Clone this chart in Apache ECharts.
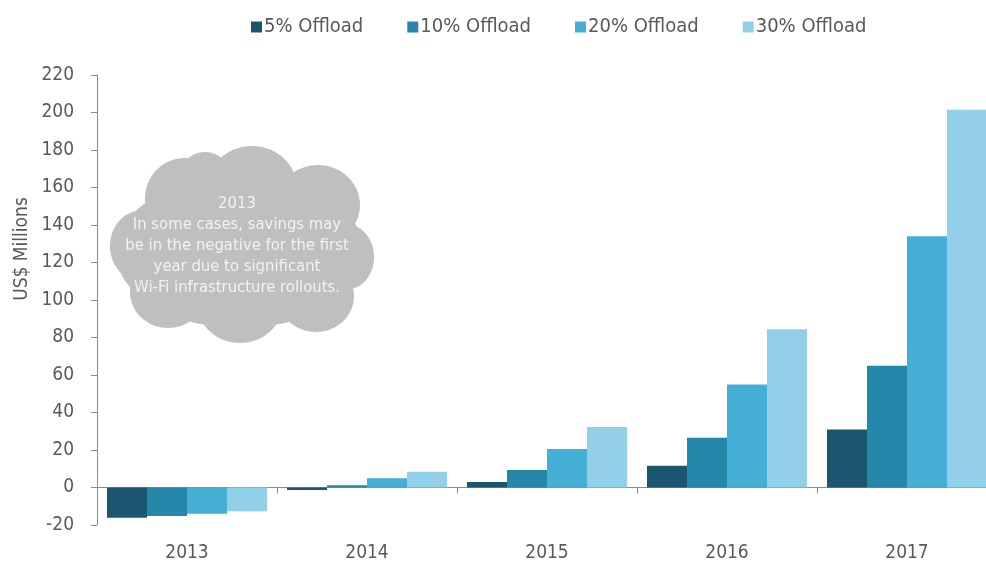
<!DOCTYPE html>
<html><head><meta charset="utf-8">
<script src="https://cdn.jsdelivr.net/npm/echarts@6/dist/echarts.min.js"></script>
<style>html,body{margin:0;padding:0;background:#fff;overflow:hidden}#c{width:997px;height:564px}</style>
</head><body><div id="c"></div>
<script>
const categories = ['2013','2014','2015','2016','2017'];
const seriesNames = ['5% Offload','10% Offload','20% Offload','30% Offload'];
const offload5  = [-16.1, -1.3, 3, 11.6, 31];
const offload10 = [-15.2, 1.2, 9.3, 26.6, 65];
const offload20 = [-14, 5, 20.5, 55, 134];
const offload30 = [-12.7, 8.4, 32.3, 84.4, 201.5];
const yTicks = {min: -20, max: 220, interval: 20};
const yAxisTitle = 'US$ Millions';
const cloudLines = ['2013','In some cases, savings may','be in the negative for the first','year due to significant','Wi-Fi infrastructure rollouts.'];

const colors = ['#1b5670','#2588ab','#46afd6','#92cfe8'];
const font = "'DejaVu Sans Condensed','Liberation Sans Narrow',sans-serif";
const txt = '#595959';
const chart = echarts.init(document.getElementById('c'));
const dataSets = [offload5, offload10, offload20, offload30];

const cloudColor = '#bfbfbf';
const circles = [
  [240,252,124,76],[185,198,40,40],[252,188,45,42],[318,205,42,40],[140,246,30,35],
  [348,257,26,32],[168,292,38,36],[240,305,42,38],[316,296,38,36],[205,178,26,26]
];
const graphics = circles.map(c => ({type:'ellipse', shape:{cx:c[0],cy:c[1],rx:c[2],ry:c[3]}, style:{fill:cloudColor}, silent:true, z:10}));
graphics.push({type:'text', x:237, y:193, z:11, style:{text: cloudLines.join('\n'), fill:'#f2f2f2', font:"16.5px "+font, align:'center', lineHeight:21}});
graphics.push({type:'text', x:22, y:249, rotation:Math.PI/2, z:11, style:{text: yAxisTitle, fill:txt, font:"19px "+font, align:'center', verticalAlign:'middle'}});

chart.setOption({
  animation:false,
  color: colors,
  legend: {
    data: seriesNames, top: 12, left: 246, itemWidth: 11, itemHeight: 11, itemGap: 44,
    icon: 'rect', textStyle: {fontFamily: font, fontSize: 20, color: txt, padding:[0,0,0,-3]}
  },
  grid: {left: 97, right: 0, top: 75, bottom: 39, containLabel: false},
  xAxis: [{
    type:'category', data: categories, position:'bottom',
    axisLine:{show:false, onZero:false}, axisTick:{show:false},
    axisLabel:{fontFamily:font, fontSize:19, color:txt, margin:19}
  },{
    type:'category', data: categories, position:'bottom',
    axisLine:{show:true, onZero:true, lineStyle:{color:'#8c8c8c', width:1}},
    axisTick:{show:true, length:6, lineStyle:{color:'#8c8c8c'}},
    axisLabel:{show:false}
  }],
  yAxis: {
    type:'value', min: yTicks.min, max: yTicks.max, interval: yTicks.interval,
    axisLine:{show:true, lineStyle:{color:'#8c8c8c'}},
    axisTick:{show:true, length:6, lineStyle:{color:'#8c8c8c'}},
    axisLabel:{fontFamily:font, fontSize:19, color:txt, margin:23},
    splitLine:{show:false}
  },
  series: dataSets.map((d,i) => ({
    name: seriesNames[i], type:'bar', data: d, xAxisIndex:0,
    barWidth: 40, barGap: '0%', barCategoryGap:'11.1%'
  })),
  graphic: graphics
});
</script></body></html>
